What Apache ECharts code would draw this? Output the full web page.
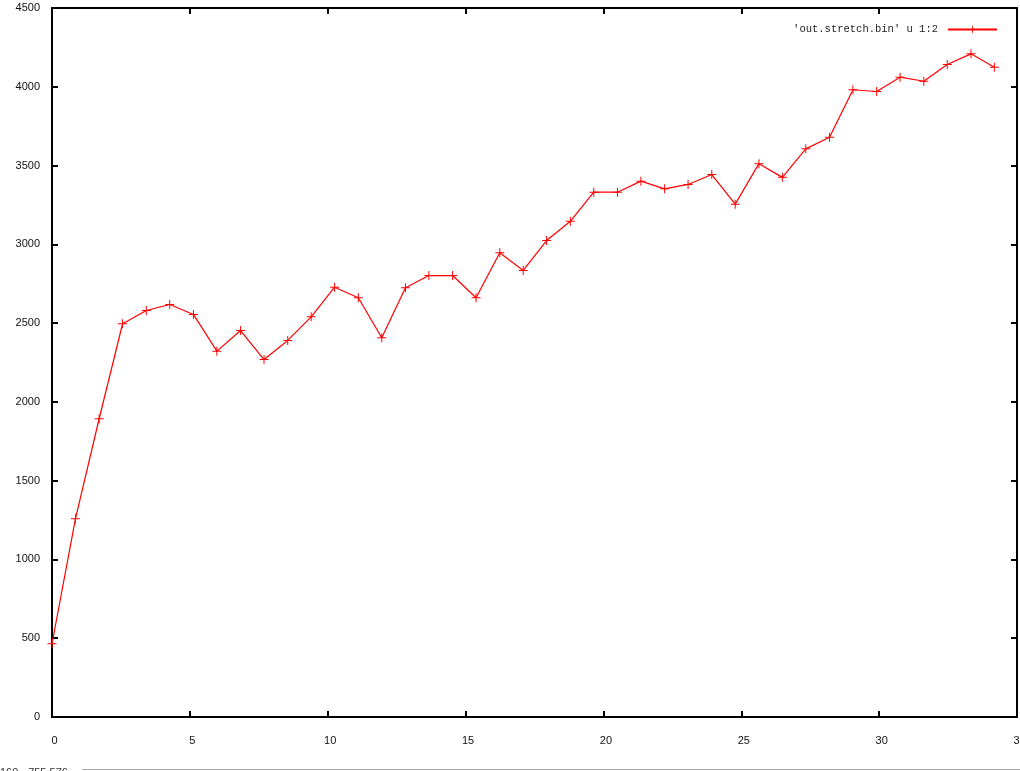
<!DOCTYPE html>
<html>
<head>
<meta charset="utf-8">
<script src="https://cdn.jsdelivr.net/npm/echarts@6/dist/echarts.min.js"></script>
<style>
html,body{margin:0;padding:0;background:#fff;}
#chart{width:1020px;height:771px;}
</style>
</head>
<body>
<div id="chart"></div>
<script>
var seriesName = "'out.stretch.bin' u 1:2";
var xValues = [0, 0.85, 1.71, 2.56, 3.42, 4.27, 5.13, 5.98, 6.84, 7.69, 8.55, 9.40, 10.25, 11.11, 11.96, 12.82, 13.67, 14.53, 15.38, 16.24, 17.09, 17.94, 18.80, 19.65, 20.51, 21.36, 22.22, 23.07, 23.93, 24.78, 25.64, 26.49, 27.34, 28.20, 29.05, 29.91, 30.76, 31.62, 32.47, 33.33, 34.18];
var yValues = [465, 1258, 1893, 2496, 2580, 2618, 2555, 2322, 2453, 2269, 2390, 2540, 2728, 2661, 2407, 2724, 2802, 2802, 2661, 2946, 2834, 3024, 3146, 3331, 3331, 3401, 3352, 3380, 3443, 3255, 3512, 3425, 3606, 3680, 3981, 3970, 4061, 4035, 4141, 4209, 4124];
var statusText = "160, -755.576";

var data = xValues.map(function (x, i) { return [x, yValues[i]]; });

var chart = echarts.init(document.getElementById('chart'), null, {renderer: 'canvas'});
var axisCommon = {
  type: 'value',
  axisLine: {show: true, onZero: false, lineStyle: {color: '#000', width: 2}},
  axisTick: {show: true, inside: true, length: 6, lineStyle: {color: '#000', width: 2}},
  splitLine: {show: false}
};
function ax(extra) { return Object.assign({}, JSON.parse(JSON.stringify(axisCommon)), extra); }
function plain(v) { return String(v); }

chart.setOption({
  animation: false,
  backgroundColor: '#fff',
  grid: {left: 52, right: 3, top: 8, bottom: 54, containLabel: false, outerBoundsMode: 'none'},
  legend: {
    show: true,
    data: [seriesName],
    right: 17,
    top: 19,
    align: 'right',
    itemWidth: 49,
    itemHeight: 9,
    textStyle: {fontFamily: 'Liberation Mono', fontSize: 10.5, color: '#222', padding: [0, 5, 0, 0]}
  },
  xAxis: [
    ax({position: 'bottom', min: 0, max: 35, interval: 5,
      axisLabel: {show: true, margin: 18, fontFamily: 'Liberation Sans', fontSize: 11, color: '#111', padding: [0, 0, 0, 5], formatter: plain}}),
    ax({position: 'top', min: 0, max: 35, interval: 5, axisLabel: {show: false}})
  ],
  yAxis: [
    ax({position: 'left', min: 0, max: 4500, interval: 500,
      axisLabel: {show: true, margin: 12, fontFamily: 'Liberation Sans', fontSize: 11, color: '#111', formatter: plain}}),
    ax({position: 'right', min: 0, max: 4500, interval: 500, axisLabel: {show: false}})
  ],
  series: [{
    name: seriesName,
    type: 'line',
    xAxisIndex: 0,
    yAxisIndex: 0,
    data: data,
    clip: false,
    symbol: 'path://M4,0H5V4H9V5H5V9H4V5H0V4H4Z',
    symbolSize: 9,
    showAllSymbol: true,
    itemStyle: {color: '#ff0000'},
    lineStyle: {color: '#ff0000', width: 1.2}
  }],
  graphic: [
    {type: 'text', left: 0, top: 767, silent: true,
      style: {text: statusText, fontFamily: 'Liberation Sans', fontSize: 11, fill: '#333'}},
    {type: 'line', silent: true,
      shape: {x1: 82, y1: 769.5, x2: 1020, y2: 769.5},
      style: {stroke: '#aaa', lineWidth: 1}}
  ]
});
</script>
</body>
</html>
